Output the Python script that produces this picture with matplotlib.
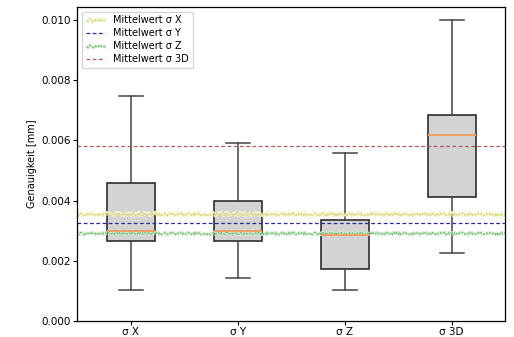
import matplotlib
matplotlib.use("Agg")
import matplotlib.pyplot as plt
import matplotlib.patheffects as pe

categories = ["σ X", "σ Y", "σ Z", "σ 3D"]
whislo = [0.00101, 0.00142, 0.00101, 0.00224]
q1 = [0.00265, 0.00265, 0.00173, 0.00413]
med = [0.00300, 0.00300, 0.00284, 0.00617]
q3 = [0.00458, 0.00400, 0.00334, 0.00686]
whishi = [0.00749, 0.00591, 0.00558, 0.01000]

mean_labels = ["Mittelwert σ X", "Mittelwert σ Y", "Mittelwert σ Z", "Mittelwert σ 3D"]
mean_values = [0.00354, 0.00327, 0.00293, 0.00582]

fig = plt.figure(figsize=(5.14, 3.37), dpi=100)
ax = fig.add_axes([0.150, 0.048, 0.833, 0.932])

stats = []
for i, c in enumerate(categories):
    stats.append(dict(label=c, whislo=whislo[i], q1=q1[i], med=med[i],
                      q3=q3[i], whishi=whishi[i], fliers=[]))

ax.bxp(stats, positions=[1, 2, 3, 4], widths=0.45, patch_artist=True,
       showfliers=False,
       boxprops=dict(facecolor="#d3d3d3", edgecolor="#2e2e2e", linewidth=1.2),
       whiskerprops=dict(color="#444444", linewidth=1.1),
       capprops=dict(color="#444444", linewidth=1.1),
       medianprops=dict(color="#f0a060", linewidth=1.4))

# mean lines
lx = ax.axhline(mean_values[0], color="#d6d67a", lw=0.9, ls=(0, (2, 1)), label=mean_labels[0],
                path_effects=[pe.Stroke(linewidth=3, foreground="#f4f4cc"), pe.Normal()])
lx.set_sketch_params(1.0, 4, 2)
ax.axhline(mean_values[1], color="#2a2a9a", lw=0.9, ls=(0, (3, 2)), label=mean_labels[1])
lz = ax.axhline(mean_values[2], color="#7cc07c", lw=0.9, ls=(0, (2, 1)), label=mean_labels[2],
                path_effects=[pe.Stroke(linewidth=2.5, foreground="#cfeccf"), pe.Normal()])
lz.set_sketch_params(1.0, 4, 2)
ax.axhline(mean_values[3], color="#b05a5a", lw=0.9, ls=(0, (3, 2)), label=mean_labels[3])

ax.set_xlim(0.5, 4.5)
ax.set_ylim(0, 0.01045)
ax.set_yticks([0.0, 0.002, 0.004, 0.006, 0.008, 0.010])
ax.set_yticklabels(["0.000", "0.002", "0.004", "0.006", "0.008", "0.010"])
ax.tick_params(labelsize=7.5, length=2.6, pad=2.2, width=0.8)
ax.set_ylabel("Genauigkeit [mm]", fontsize=7, labelpad=3)
for s in ax.spines.values():
    s.set_linewidth(0.9)
ax.legend(loc="upper left", fontsize=7, handlelength=2.0, borderpad=0.4, labelspacing=0.3)

fig.savefig("out.png", dpi=100)
